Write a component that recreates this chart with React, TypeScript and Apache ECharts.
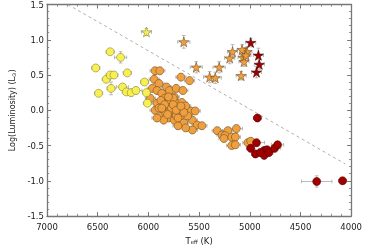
import React, { useEffect, useRef } from "react";
import * as echarts from "echarts";

// Each point: [Teff (K), log L, error Teff, error logL]
const yellowCircles = [
  [6519, 0.6, 40, 0.04], [6377, 0.83, 40, 0.04], [6274, 0.75, 60, 0.08], [6415, 0.44, 40, 0.04],
  [6377, 0.5, 40, 0.04], [6340, 0.5, 40, 0.04], [6208, 0.53, 40, 0.04], [6368, 0.31, 40, 0.09],
  [6491, 0.24, 40, 0.04], [6255, 0.33, 60, 0.05], [6217, 0.26, 40, 0.04], [6170, 0.25, 60, 0.05],
  [6123, 0.28, 60, 0.05], [6038, 0.4, 40, 0.04], [6019, 0.25, 40, 0.04], [6009, 0.1, 40, 0.04],
];

const orangeCircles = [
  [5934, 0.56, 50, 0.05], [5887, 0.56, 50, 0.05], [5943, 0.44, 50, 0.05], [5896, 0.38, 50, 0.05],
  [5962, 0.31, 50, 0.05], [5915, 0.28, 50, 0.05], [5981, 0.17, 50, 0.05], [5868, 0.24, 50, 0.05],
  [5821, 0.33, 50, 0.05], [5792, 0.28, 50, 0.05], [5726, 0.31, 50, 0.05], [5679, 0.47, 50, 0.05],
  [5594, 0.42, 50, 0.05], [5660, 0.28, 50, 0.05], [5745, 0.19, 50, 0.05], [5840, 0.17, 50, 0.05],
  [5915, 0.1, 50, 0.05], [5934, 0.0, 50, 0.05], [5868, -0.08, 50, 0.05], [5821, 0.1, 50, 0.05],
  [5774, 0.06, 50, 0.05], [5726, 0.1, 50, 0.05], [5708, 0.0, 50, 0.05], [5774, -0.04, 50, 0.05],
  [5840, 0.0, 50, 0.05], [5802, -0.11, 50, 0.05], [5745, -0.14, 50, 0.05], [5679, -0.08, 50, 0.05],
  [5651, -0.18, 50, 0.05], [5585, -0.01, 50, 0.05], [5538, -0.01, 50, 0.05], [5566, -0.14, 50, 0.05],
  [5519, -0.21, 50, 0.05], [5566, -0.28, 50, 0.05], [5472, -0.22, 50, 0.05], [5632, -0.25, 50, 0.05],
  [5708, -0.22, 50, 0.05], [5821, 0.03, 50, 0.05], [5792, 0.06, 50, 0.05], [5764, 0.0, 50, 0.05],
  [5802, 0.11, 50, 0.05], [5745, -0.04, 50, 0.05], [5858, 0.06, 50, 0.05], [5726, -0.08, 50, 0.05],
  [5689, 0.03, 50, 0.05], [5830, -0.04, 50, 0.05], [5783, 0.14, 50, 0.05], [5755, 0.17, 50, 0.05],
  [5877, 0.14, 50, 0.05], [5896, 0.03, 50, 0.05], [5849, -0.14, 50, 0.05], [5915, -0.11, 50, 0.05],
  [5670, 0.11, 50, 0.05], [5632, 0.06, 50, 0.05], [5613, -0.08, 50, 0.05], [5651, -0.03, 50, 0.05],
  [5792, -0.01, 50, 0.05], [5774, 0.03, 50, 0.05], [5811, -0.06, 50, 0.05], [5755, 0.08, 50, 0.05],
  [5726, 0.0, 50, 0.05], [5840, 0.08, 50, 0.05], [5868, 0.03, 50, 0.05], [5708, -0.11, 50, 0.05],
  [5802, 0.19, 50, 0.05], [5679, 0.06, 50, 0.05],
  [5321, -0.29, 50, 0.05], [5274, -0.35, 50, 0.05], [5217, -0.29, 50, 0.05], [5132, -0.26, 60, 0.05],
  [5245, -0.36, 50, 0.05], [5179, -0.38, 50, 0.05], [5142, -0.38, 50, 0.05], [5179, -0.5, 50, 0.05],
  [5142, -0.49, 50, 0.05], [5019, -0.46, 50, 0.05], [4991, -0.44, 50, 0.05], [5255, -0.4, 50, 0.05],
];

const redCircles = [
  [4925, -0.11, 40, 0.05], [4934, -0.46, 80, 0.05], [4991, -0.54, 40, 0.05], [4944, -0.62, 40, 0.05],
  [4858, -0.57, 40, 0.05], [4830, -0.56, 40, 0.05], [4858, -0.64, 40, 0.05], [4811, -0.6, 40, 0.05],
  [4755, -0.54, 60, 0.05], [4726, -0.49, 60, 0.05], [4896, -0.6, 40, 0.05],
  [4340, -1.01, 150, 0.08], [4085, -1.0, 40, 0.04],
];

const yellowStars = [[6019, 1.11, 50, 0.05]];

const orangeStars = [
  [5651, 0.97, 60, 0.09], [5528, 0.61, 60, 0.08], [5396, 0.47, 60, 0.08], [5340, 0.46, 60, 0.08],
  [5302, 0.61, 60, 0.08], [5198, 0.74, 50, 0.08], [5170, 0.83, 50, 0.1], [5085, 0.49, 50, 0.06],
  [5066, 0.75, 50, 0.07], [5047, 0.82, 50, 0.07], [5028, 0.83, 50, 0.07], [5057, 0.69, 50, 0.07],
  [5076, 0.86, 50, 0.07], [5038, 0.78, 50, 0.07],
];

const redStars = [
  [4991, 0.96, 50, 0.06], [4915, 0.78, 50, 0.1], [4906, 0.65, 50, 0.07], [4934, 0.54, 50, 0.08],
];

const refLine = [[6795, 1.5], [4060, -0.76]];

const STAR = "path://M50,0 L61,35 L98,35 L68,57 L79,91 L50,70 L21,91 L32,57 L2,35 L39,35 Z";

function errorSeries(data: number[][]) {
  return {
    type: "custom",
    data,
    encode: { x: 0, y: 1 },
    silent: true,
    z: 1,
    renderItem: (_p: any, api: any) => {
      const x = api.value(0), y = api.value(1), ex = api.value(2), ey = api.value(3);
      const c = api.coord([x, y]);
      const l = api.coord([x + ex, y]);
      const r = api.coord([x - ex, y]);
      const t = api.coord([x, y + ey]);
      const b = api.coord([x, y - ey]);
      const cap = 1.8;
      const style = { stroke: "#a8a8a8", lineWidth: 0.8, fill: null };
      return {
        type: "group",
        children: [
          { type: "line", shape: { x1: l[0], y1: c[1], x2: r[0], y2: c[1] }, style },
          { type: "line", shape: { x1: c[0], y1: t[1], x2: c[0], y2: b[1] }, style },
          { type: "line", shape: { x1: l[0], y1: c[1] - cap, x2: l[0], y2: c[1] + cap }, style },
          { type: "line", shape: { x1: r[0], y1: c[1] - cap, x2: r[0], y2: c[1] + cap }, style },
          { type: "line", shape: { x1: c[0] - cap, y1: t[1], x2: c[0] + cap, y2: t[1] }, style },
          { type: "line", shape: { x1: c[0] - cap, y1: b[1], x2: c[0] + cap, y2: b[1] }, style },
        ],
      };
    },
  };
}

function scatter(data: number[][], symbol: string, size: number, color: string, border: string) {
  return {
    type: "scatter",
    data: data.map((d) => [d[0], d[1]]),
    symbol,
    symbolSize: size,
    z: 3,
    itemStyle: { color, borderColor: border, borderWidth: 0.6, opacity: 1 },
  };
}

const axisCommon = {
  axisLine: { show: true, onZero: false, lineStyle: { color: "#777", width: 1.3 } },
  axisTick: { show: true, inside: true, length: 4, lineStyle: { color: "#777", width: 1 } },
  minorTick: { show: true, splitNumber: 5, length: 2.2, lineStyle: { color: "#777", width: 0.8 } },
  splitLine: { show: false },
};

export default function App() {
  const ref = useRef<HTMLDivElement>(null);
  useEffect(() => {
    if (!ref.current) return;
    const chart = echarts.init(ref.current, undefined, { renderer: "svg" });
    const font = "DejaVu Sans";
    chart.setOption({
      animation: false,
      grid: { left: 35, right: 12, top: 4, bottom: 30 },
      xAxis: [
        {
          type: "value", inverse: true, min: 4000, max: 7000, interval: 500, position: "bottom",
          ...axisCommon,
          axisLabel: { fontSize: 8.5, color: "#222", margin: 6, fontFamily: font, formatter: (v: number) => String(v) },
          name: "{n|T}{s|eff}{n| (K)}",
          nameLocation: "middle",
          nameGap: 20,
          nameTextStyle: {
            fontFamily: font,
            color: "#222",
            rich: {
              n: { fontSize: 8.5, color: "#222", fontFamily: font },
              s: { fontSize: 5.5, color: "#222", fontFamily: font, verticalAlign: "bottom", padding: [3, 0, 0, 0] },
            },
          },
        },
        {
          type: "value", inverse: true, min: 4000, max: 7000, interval: 500, position: "top",
          ...axisCommon,
          axisLabel: { show: false },
        },
      ],
      yAxis: [
        {
          type: "value", min: -1.5, max: 1.5, interval: 0.5, position: "left",
          ...axisCommon,
          axisLabel: { fontSize: 8.5, color: "#222", margin: 3, fontFamily: font, formatter: (v: number) => v.toFixed(1) },
          name: "{n|Log(Luminosity) (L}{s|⊙}{n|)}",
          nameLocation: "middle",
          nameGap: 23,
          nameTextStyle: {
            fontFamily: font,
            color: "#222",
            rich: {
              n: { fontSize: 8, color: "#222", fontFamily: font },
              s: { fontSize: 5.5, color: "#222", fontFamily: font, verticalAlign: "bottom", padding: [3, 0, 0, 0] },
            },
          },
        },
        {
          type: "value", min: -1.5, max: 1.5, interval: 0.5, position: "right",
          ...axisCommon,
          axisLabel: { show: false },
        },
      ],
      series: [
        {
          type: "line",
          data: refLine,
          symbol: "none",
          z: 0,
          silent: true,
          lineStyle: { color: "#999", width: 0.8, type: [3, 3] },
        },
        errorSeries(orangeCircles),
        errorSeries(yellowCircles),
        errorSeries(redCircles),
        errorSeries(yellowStars),
        errorSeries(orangeStars),
        errorSeries(redStars),
        scatter(orangeCircles, "circle", 8, "#eea040", "#7a5020"),
        scatter(yellowCircles, "circle", 8, "#f8f050", "#8a8640"),
        scatter(redCircles, "circle", 8, "#a00000", "#5a0000"),
        scatter(yellowStars, STAR, 10, "#f8f050", "#8a8640"),
        scatter(orangeStars, STAR, 10, "#eea040", "#7a5020"),
        scatter(redStars, STAR, 10, "#a00000", "#4a0000"),
      ],
    });
    return () => chart.dispose();
  }, []);
  return <div ref={ref} style={{ position: "fixed", left: 0, top: 0, width: 365, height: 250 }} />;
}
